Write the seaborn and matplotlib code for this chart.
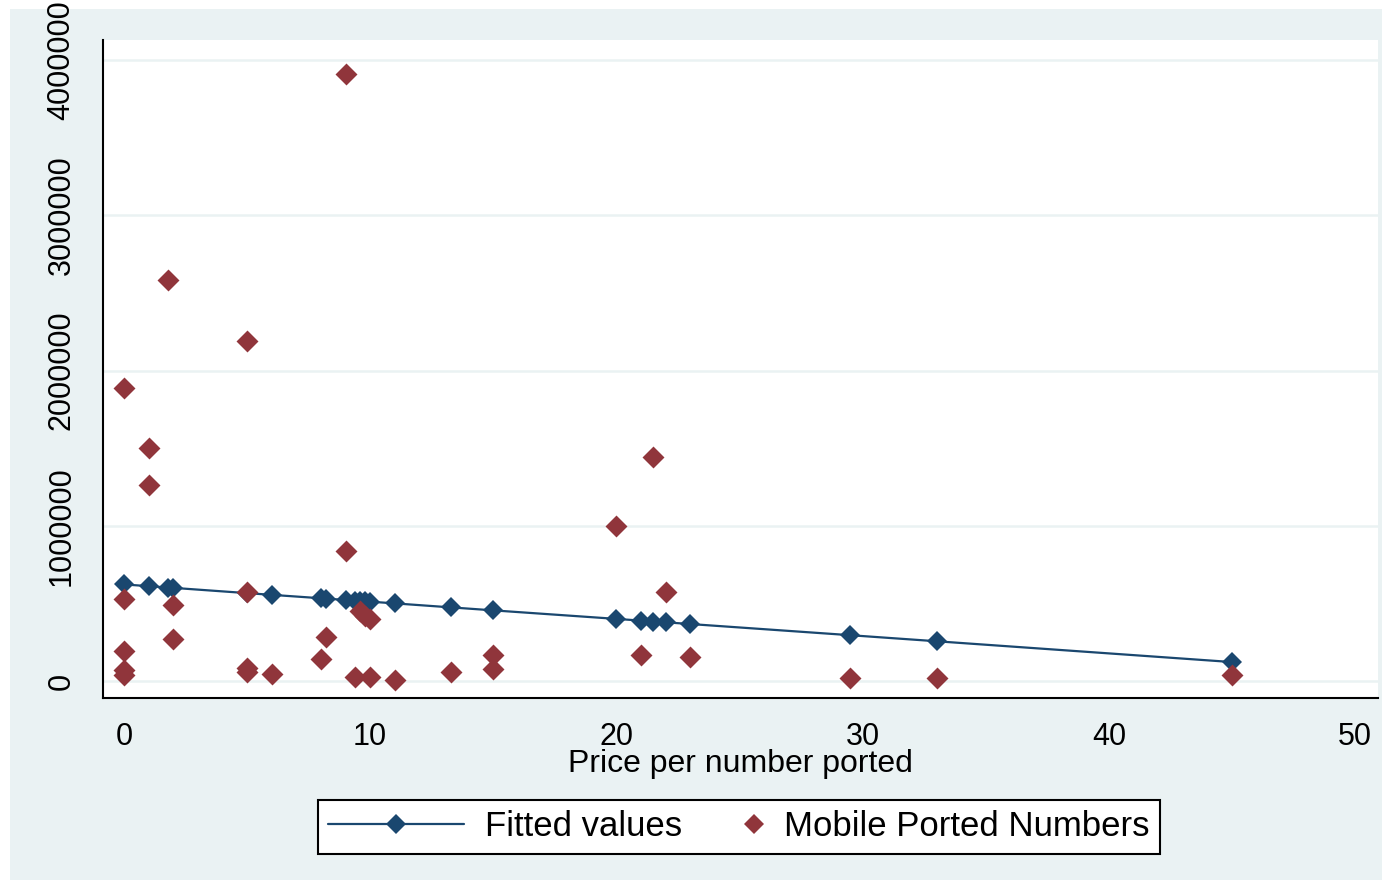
import numpy as np
import pandas as pd
import seaborn as sns
import matplotlib.pyplot as plt
from matplotlib.patches import Rectangle
from matplotlib.lines import Line2D
from matplotlib.legend_handler import HandlerLine2D

# price per number ported vs mobile ported numbers
price = [0, 0, 0, 0, 0, 1, 1, 1.8, 2, 2, 5, 5, 5, 5, 6, 8, 8.2, 9, 9, 9.4, 9.6, 9.8,
         10, 10, 11, 13.3, 15, 15, 20, 21, 21.5, 22, 23, 29.5, 33, 45]
ported = [1890000, 525000, 195000, 70000, 40000, 1500000, 1260000, 2580000, 490000,
          270000, 2190000, 575000, 85000, 60000, 45000, 140000, 285000, 3910000,
          835000, 25000, 450000, 420000, 400000, 25000, 5000, 55000, 170000, 75000,
          1000000, 170000, 1440000, 575000, 155000, 20000, 20000, 40000]

fit_x = [0, 1, 1.8, 2, 5, 6, 8, 8.2, 9, 9.4, 9.6, 9.8, 10, 11, 13.3, 15, 20, 21,
         21.5, 22, 23, 29.5, 33, 45]
fit_y = [622000, 611000, 602000, 600000, 566000, 555000, 533000, 531000, 522000,
         518000, 515000, 513000, 511000, 500000, 474000, 455000, 400000, 389000,
         383000, 378000, 367000, 295000, 256000, 122000]

df = pd.DataFrame({"price": price, "ported": ported})
fit = pd.DataFrame({"price": fit_x, "fitted": fit_y})

navy = "#1a476f"
maroon = "#90353b"
bg = "#eaf2f3"


class RightMarker(HandlerLine2D):
    # put the lone marker at the right end of the handle box, next to its text
    def get_xdata(self, legend, xdescent, ydescent, width, height, fontsize):
        x = -xdescent + width - 6
        return [x, x], [x]


sns.set_style("white")
plt.rcParams["font.family"] = ["Liberation Sans", "DejaVu Sans"]

fig = plt.figure(figsize=(13.82, 8.89), dpi=100, facecolor="white")
fig.patches.append(Rectangle((10 / 1382, 9 / 889), 1372 / 1382, 871 / 889,
                             transform=fig.transFigure, facecolor=bg,
                             edgecolor="none", zorder=-10))
ax = fig.add_axes([103 / 1382, 1 - 698 / 889, 1275 / 1382, 658 / 889])
ax.set_facecolor("white")

sns.lineplot(data=fit, x="price", y="fitted", ax=ax, color=navy, lw=1.6,
             marker="D", markersize=10.5, markeredgewidth=0, zorder=3)
sns.scatterplot(data=df, x="price", y="ported", ax=ax, color=maroon,
                marker="D", s=125, linewidth=0, zorder=4)

ax.set_xlim(-0.85, 50.93)
ax.set_ylim(-109500, 4129000)
ax.set_xticks([0, 10, 20, 30, 40, 50])
ax.set_yticks([0, 1000000, 2000000, 3000000, 4000000])
ax.set_yticklabels(["0", "1000000", "2000000", "3000000", "4000000"],
                   rotation=90, va="center")
ax.tick_params(axis="both", labelsize=22, width=1.2, direction="out",
               colors="black")
ax.tick_params(axis="x", length=6, pad=11)
ax.tick_params(axis="y", length=8, pad=11)
ax.yaxis.grid(True, color=bg, lw=1.8)
ax.set_axisbelow(True)

for s in ["top", "right"]:
    ax.spines[s].set_visible(False)
for s in ["left", "bottom"]:
    ax.spines[s].set_color("black")
    ax.spines[s].set_linewidth(1.5)

ax.set_xlabel("Price per number ported", fontsize=23, labelpad=-2, color="black")
ax.set_ylabel("")

line_h = Line2D([], [], color=navy, lw=1.6, marker="D", markersize=10.5,
                markeredgewidth=0)
dot_h = Line2D([], [], color=maroon, lw=0, marker="D", markersize=10.5,
               markeredgewidth=0)
leg = fig.legend([line_h, dot_h], ["Fitted values", "Mobile Ported Numbers"], ncol=2,
                 loc="center", bbox_to_anchor=(739 / 1382, 1 - 827 / 889),
                 fontsize=25, frameon=True, fancybox=False, edgecolor="black",
                 facecolor="white", framealpha=1,
                 handler_map={dot_h: RightMarker()},
                 handlelength=3.9, handletextpad=0.63, columnspacing=-1.6,
                 borderpad=0.3, borderaxespad=0)
leg.get_frame().set_linewidth(1.5)
for t in leg.get_texts():
    t.set_color("black")

fig.savefig("out.png", dpi=100, facecolor="white")
